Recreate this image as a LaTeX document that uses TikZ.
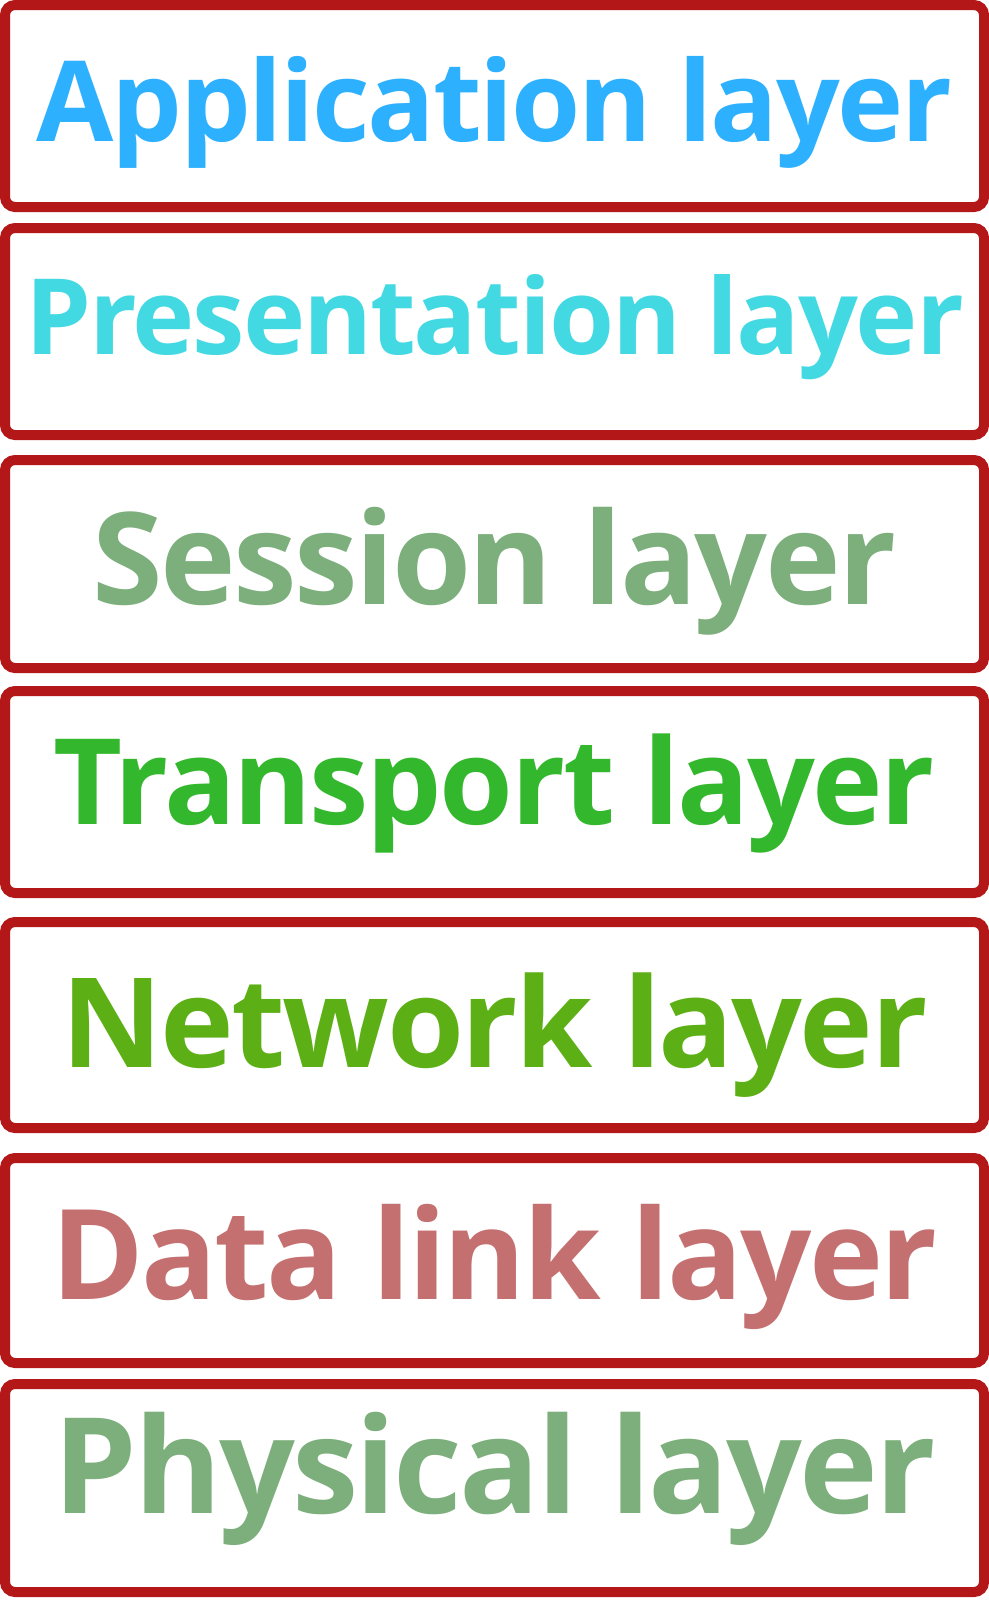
\documentclass[tikz,border=0pt]{standalone}
\usepackage{fontspec}
\setmainfont{Open Sans}
\newfontfamily\osifont[LetterSpace=-2.0]{Open Sans}
\usepackage{xcolor}
\usetikzlibrary{positioning}
\definecolor{osiborder}{HTML}{B31717}
\definecolor{osiapp}{HTML}{2DB1FF}
\definecolor{osipres}{HTML}{43D9E3}
\definecolor{osisess}{HTML}{7CAF7C}
\definecolor{ositrans}{HTML}{33B72D}
\definecolor{osinet}{HTML}{5CAF14}
\definecolor{osilink}{HTML}{C47070}
\definecolor{osiphys}{HTML}{7CAF7C}
% baseline offset below the box centre, then the text
\newcommand{\osilabel}[2]{\raisebox{-#1}[0pt][0pt]{#2}}
\tikzset{%
  osilayer/.style={%
    draw=osiborder,
    line width=7.5pt,
    fill=white,
    rounded corners=7.5pt,
    minimum width=734.25pt,
    minimum height=153.75pt,
    inner sep=0pt,
    align=center,
    font=\fontsize{#1}{#1}\selectfont\osifont\bfseries
  }
}
\begin{document}
\begin{tikzpicture}
    \useasboundingbox (0,0) rectangle (741.75pt,-1200pt);
    \node[osilayer=84,text=osiapp,minimum height=151.5pt,anchor=north west] (app) at (0,0) {\osilabel{26.25pt}{Application layer}};
    \node[osilayer=79,text=osipres,minimum height=155.25pt,below=8.25pt of app] (pres) {\osilabel{17.6pt}{Presentation layer}};
    \node[osilayer=96,text=osisess,minimum height=156pt,below=11.25pt of pres] (sess) {\osilabel{30pt}{Session layer}};
    \node[osilayer=89.5,text=ositrans,minimum height=151.5pt,below=9.75pt of sess] (trans) {\osilabel{24pt}{Transport layer}};
    \node[osilayer=93.5,text=osinet,minimum height=154.5pt,below=14.25pt of trans] (net) {\osilabel{31.5pt}{Network layer}};
    \node[osilayer=94,text=osilink,minimum height=153.75pt,below=15pt of net] (link) {\osilabel{28.9pt}{Data link layer}};
    \node[osilayer=100,text=osiphys,minimum height=156pt,below=8.25pt of link] (phys) {\osilabel{18.75pt}{Physical layer}};
  \end{tikzpicture}
\end{document}
